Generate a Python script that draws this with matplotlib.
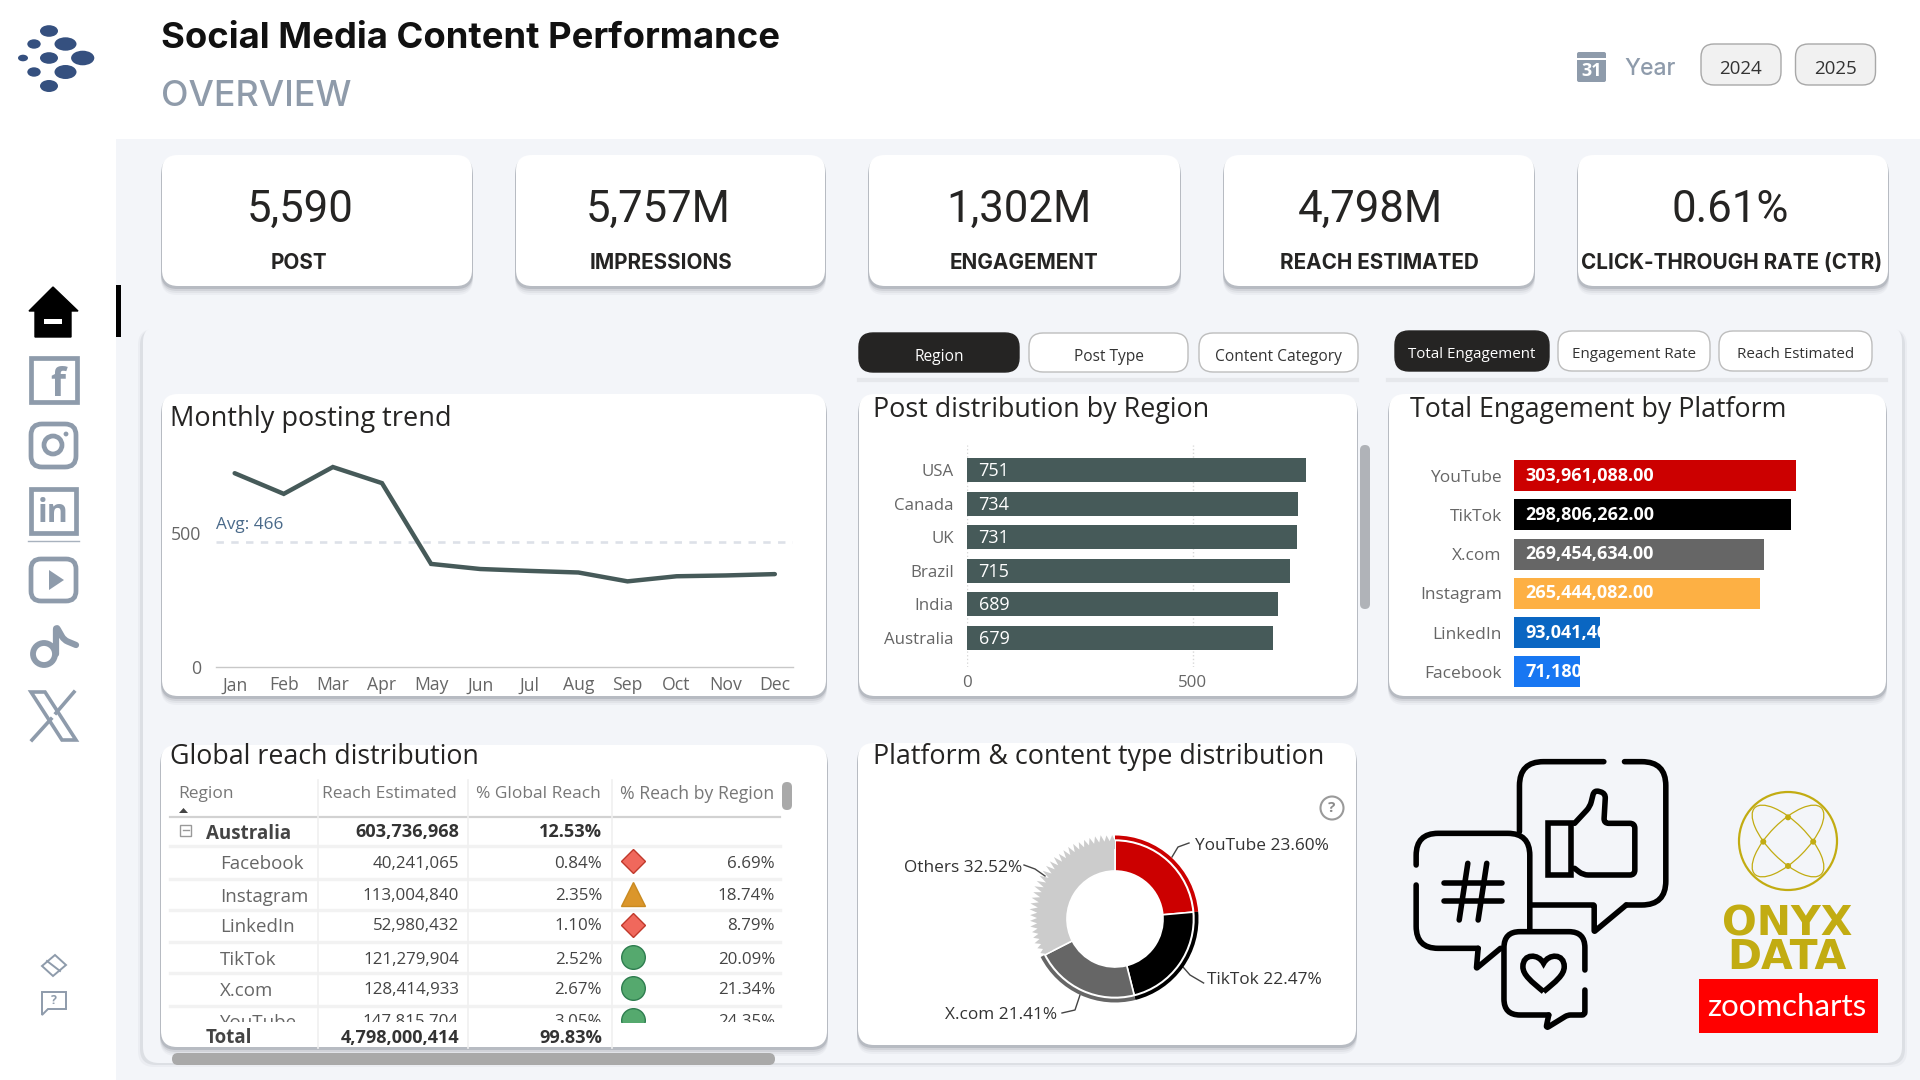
import numpy as np
import matplotlib
matplotlib.use("Agg")
import matplotlib.pyplot as plt
from matplotlib.patches import FancyBboxPatch, Rectangle, Circle, Polygon, PathPatch, Ellipse
from matplotlib.path import Path

# ---------- data ----------
kpi_values = ["5,590", "5,757M", "1,302M", "4,798M", "0.61%"]
kpi_labels = ["POST", "IMPRESSIONS", "ENGAGEMENT", "REACH ESTIMATED", "CLICK-THROUGH RATE (CTR)"]
months = ["Jan", "Feb", "Mar", "Apr", "May", "Jun", "Jul", "Aug", "Sep", "Oct", "Nov", "Dec"]
monthly_posts = [721, 644, 744, 684, 383, 364, 357, 351, 318, 337, 340, 345]
avg_posts = 466
regions = ["USA", "Canada", "UK", "Brazil", "India", "Australia"]
region_posts = [751, 734, 731, 715, 689, 679]
platforms = ["YouTube", "TikTok", "X.com", "Instagram", "LinkedIn", "Facebook"]
platform_engagement = [303961088, 298806262, 269454634, 265444082, 93041400, 71180000]
platform_colors = ["#CC0000", "#000000", "#666666", "#FDB044", "#0A66C2", "#1877F2"]
tab_left = ["Region", "Post Type", "Content Category"]
tab_right = ["Total Engagement", "Engagement Rate", "Reach Estimated"]
years = ["2024", "2025"]
table_header = ["Region", "Reach Estimated", "% Global Reach", "% Reach by Region"]
table_names = ["Facebook", "Instagram", "LinkedIn", "TikTok", "X.com", "YouTube"]
table_reach = ["40,241,065", "113,004,840", "52,980,432", "121,279,904", "128,414,933", "147,815,704"]
table_global = ["0.84%", "2.35%", "1.10%", "2.52%", "2.67%", "3.05%"]
table_region = ["6.69%", "18.74%", "8.79%", "20.09%", "21.34%", "24.35%"]
table_icons = ["D", "^", "D", "o", "o", "o"]
group_row = ["Australia", "603,736,968", "12.53%"]
total_row = ["Total", "4,798,000,414", "99.83%"]
donut_labels = ["YouTube 23.60%", "TikTok 22.47%", "X.com 21.41%", "Others 32.52%"]
donut_values = [23.60, 22.47, 21.41, 32.52]
donut_colors = ["#CC0000", "#000000", "#666666", "#CCCCCC"]
others_tips = [82, 83, 84, 84, 84, 85, 85, 85, 86, 86, 86, 86, 87, 87, 87, 87, 87, 87, 87, 86,
               86, 86, 86, 85, 85, 85, 85, 85, 84, 84]

SANS = "Open Sans"
HEAD = "Inter"
BG = "#F3F5F9"
SLATE = "#8E9BAB"
BAR = "#465A59"

plt.rcParams["font.family"] = [SANS, "DejaVu Sans"]
fig = plt.figure(figsize=(19.2, 10.8), dpi=100, facecolor="white")
W, H = 1920, 1080
ax = fig.add_axes([0, 0, 1, 1])
ax.set_xlim(0, W); ax.set_ylim(H, 0); ax.axis("off")


def sub_axes(x0, y0, x1, y1, **kw):
    a = fig.add_axes([x0 / W, 1 - y1 / H, (x1 - x0) / W, (y1 - y0) / H], **kw)
    a.patch.set_alpha(0)
    return a


def rbox(x0, y0, x1, y1, r, fc, ec="none", lw=0, z=1, alpha=None):
    p = FancyBboxPatch((x0, y0), x1 - x0, y1 - y0, boxstyle=f"round,pad=0,rounding_size={r}",
                       fc=fc, ec=ec, lw=lw, zorder=z, alpha=alpha)
    ax.add_patch(p)
    return p


def card(x0, y0, x1, y1, r=16, z=2):
    for d, a in [(9, 0.05), (7, 0.07), (5, 0.12), (3, 0.22)]:
        rbox(x0 - 1, y0 + d - 1, x1 + 1, y1 + d, r, "#5E6672", alpha=a, z=z)
    rbox(x0, y0, x1, y1, r, "white", z=z + 0.1)


def T(x, y, s, size=12, color="#333333", ha="left", weight="normal", family=None, z=6, **kw):
    return ax.text(x, y, s, fontsize=size, color=color, ha=ha, va="center", fontweight=weight,
                   family=family or SANS, zorder=z, **kw)


def rpath(pts, r=6, closed=False):
    pts = [np.array(p, float) for p in pts]
    verts, codes = [pts[0]], [Path.MOVETO]
    n = len(pts)
    for i in range(1, n - 1):
        p, a, b = pts[i], pts[i - 1], pts[i + 1]
        u = (a - p) / np.linalg.norm(a - p); v = (b - p) / np.linalg.norm(b - p)
        verts += [p + u * r, p, p + v * r]; codes += [Path.LINETO, Path.CURVE3, Path.CURVE3]
    verts.append(pts[-1]); codes.append(Path.LINETO)
    return Path(verts, codes)


def stroke(pts, r=6, lw=4.0, color="black", z=6):
    ax.add_patch(PathPatch(rpath(pts, r), fc="none", ec=color, lw=lw, capstyle="round",
                           joinstyle="round", zorder=z))


# ---------- background ----------
ax.add_patch(Rectangle((116, 139), W - 116, H - 139, fc=BG, ec="none", zorder=0))
for d, a in [(4, 0.05), (2, 0.10)]:
    rbox(142 - d, 329, 1903 + d, 1063 + d, 16, "#5E6672", alpha=a, z=0.5)
rbox(143, 326, 1902, 1063, 16, BG, z=0.6)
ax.add_patch(Rectangle((116, 285), 5, 52, fc="black", ec="none", zorder=1))

# ---------- header ----------
for cx, cy, rx, ry in [(49, 31, 9, 5.8), (34, 44, 6.7, 4.7), (65.5, 44, 11, 6.7), (23, 58, 5, 3.3), (49, 58, 9, 5.8),
                       (82.7, 58, 11.6, 7.3), (34, 72, 6.7, 4.7), (65.5, 72, 11, 7), (49, 86, 9, 6)]:
    ax.add_patch(Ellipse((cx, cy), 2 * rx, 2 * ry, fc="#35507F", ec="none", zorder=3))
T(161, 39, "Social Media Content Performance", 26.2, "#111111", weight="bold", family=HEAD)
T(161, 96, "OVERVIEW", 25.8, "#8F9BAA", weight="medium", family=HEAD)
ax.add_patch(FancyBboxPatch((1577, 52), 29, 30, boxstyle="round,pad=0,rounding_size=2", fc=SLATE, ec="none", zorder=3))
ax.add_patch(Rectangle((1577, 58), 29, 2, fc="white", ec="none", zorder=4))
T(1591.5, 71, "31", 13, "white", ha="center", weight="bold")
T(1624, 69, "Year", 16.5, SLATE, family=HEAD, weight="medium")
for (x0, x1), y in zip([(1701, 1781), (1795.5, 1875.5)], years):
    rbox(x0, 44, x1, 85, 13, "#F1F1F1", "#A8A8A8", 1.0, z=3)
    T((x0 + x1) / 2, 69, y, 13.5, "#333333", ha="center")

# ---------- KPI cards ----------
cards_x = [(162, 472), (516, 825), (869, 1180), (1224, 1534), (1578, 1888)]
val_cx = [300, 658, 1019, 1370, 1730]
lab_cx = [299, 661, 1024, 1379, 1732]
for (x0, x1), v, l, vc, lc in zip(cards_x, kpi_values, kpi_labels, val_cx, lab_cx):
    card(x0, 155, x1, 286)
    T(vc, 210, v, 31.5, "#252423", ha="center", family="Roboto")
    T(lc, 263, l, 14.9, "#252423", ha="center", weight="bold", family=HEAD)

# ---------- tabs ----------
for (x0, x1), s, sel in zip([(859, 1019), (1029, 1188), (1199, 1358)], tab_left, [1, 0, 0]):
    rbox(x0, 333, x1, 372, 14, "#252423" if sel else "white", "#BDBDBD" if not sel else "#252423", 1, z=3)
    T((x0 + x1) / 2, 357, s, 11.2, "white" if sel else "#333333", ha="center")
for (x0, x1), s, sel in zip([(1395, 1549), (1558, 1710), (1719, 1872)], tab_right, [1, 0, 0]):
    rbox(x0, 331, x1, 371, 14, "#252423" if sel else "white", "#BDBDBD" if not sel else "#252423", 1, z=3)
    T((x0 + x1) / 2, 355, s, 10.9, "white" if sel else "#333333", ha="center")
ax.plot([859, 1357], [380, 380], color="#E6E8EC", lw=3, zorder=1)
ax.plot([1388, 1886], [380, 380], color="#E6E8EC", lw=3, zorder=1)

# ---------- panels ----------
card(162, 394, 826, 696)
card(859, 394, 1357, 696)
card(1389, 394, 1886, 696)
card(161, 745, 827, 1047)
card(858, 743, 1356, 1045)
T(170, 419, "Monthly posting trend", 19.5, "#252423")
T(873, 410, "Post distribution by Region", 19.4, "#252423")
T(1410, 410, "Total Engagement by Platform", 19.3, "#252423")
T(170, 757, "Global reach distribution", 19.3, "#252423")
T(873, 757, "Platform & content type distribution", 19.4, "#252423")

# ---------- line chart ----------
a1 = sub_axes(215.5, 452, 793, 666.7)
a1.set_ylim(0, 800)
a1.set_xlim(-0.39, 11.37)
a1.axhline(avg_posts, color="#DDE1E8", lw=1.9, dashes=(2.8, 2.8), zorder=1)
a1.plot(range(12), monthly_posts, color=BAR, lw=3.2, solid_capstyle="round", solid_joinstyle="miter", zorder=2)
a1.set_xticks(range(12), months)
a1.set_yticks([0, 500])
a1.tick_params(length=0, labelsize=12.7, labelcolor="#666666")
a1.tick_params(axis="x", pad=7)
a1.tick_params(axis="y", pad=10)
for s in ["top", "left", "right"]:
    a1.spines[s].set_visible(False)
a1.spines["bottom"].set_color("#C8C8C8")
a1.spines["bottom"].set_linewidth(1)
a1.text(215.5, 525, f"Avg: {avg_posts}", transform=ax.transData, fontsize=12.3, color="#4A6A8A", va="center", family=SANS)

# ---------- region bars ----------
a2 = sub_axes(966.7, 445, 966.7 + 361.4, 667)
y2 = np.arange(len(regions))
a2.set_ylim(5 + 29 / 33.5, -25 / 33.5)
a2.set_xlim(0, 800)
a2.barh(y2, region_posts, height=24 / 33.5, color=BAR, zorder=2)
a2.set_yticks(y2, regions)
a2.set_xticks([0, 500])
a2.tick_params(length=0, labelsize=12.2, labelcolor="#666666")
a2.tick_params(axis="y", pad=9.3)
a2.tick_params(axis="x", pad=6)
a2.grid(axis="x", color="#D8D8D8", lw=1, ls=":", zorder=0)
for s in a2.spines.values():
    s.set_visible(False)
for i, v in enumerate(region_posts):
    a2.annotate(str(v), (0, i), xytext=(8.5, -0.8), textcoords="offset points", color="white", fontsize=13,
                va="center", ha="left", zorder=3)
rbox(1360, 445, 1370, 609, 5, "#B0B3B8", z=4)

# ---------- platform bars ----------
a3 = sub_axes(1514, 456, 1514 + 371.2, 691.6)
y3 = np.arange(len(platforms))
a3.set_ylim(5.5, -0.5)
a3.set_xlim(0, 400e6)
bars = a3.barh(y3, platform_engagement, height=31 / 39.3, color=platform_colors, zorder=2)
a3.set_yticks(y3, platforms)
a3.set_xticks([])
a3.tick_params(length=0, labelsize=12.5, labelcolor="#666666", pad=8.8)
for s in a3.spines.values():
    s.set_visible(False)
for b, v in zip(bars, platform_engagement):
    t = a3.annotate(f"{v:,.2f}", (0, b.get_y() + b.get_height() / 2), xytext=(8.2, 0), textcoords="offset points",
                    color="white", fontsize=13, fontweight="bold", va="center", ha="left", zorder=3)
    t.set_clip_path(b)

# ---------- table ----------
TX = [459, 602, 775]
for y in [846, 879, 910, 942, 973, 1006]:
    ax.plot([170, 780], [y, y], color="#F2F2F2", lw=2.4, zorder=3)
ax.plot([170, 780], [817, 817], color="#D2D2D2", lw=1.6, zorder=3)
for x in [318, 468, 611.5]:
    ax.plot([x, x], [780, 1048], color="#F0F0F0", lw=1.2, zorder=3)
T(178.5, 794, table_header[0], 12.5, "#777777")
T(457, 794, table_header[1], 12.5, "#777777", ha="right")
T(601, 794, table_header[2], 12.5, "#777777", ha="right")
T(774, 794, table_header[3], 12.7, "#777777", ha="right")
ax.add_patch(Polygon([(179, 813), (188, 813), (183.5, 808)], fc="#444444", ec="none", zorder=5))
ax.add_patch(Rectangle((180, 824.5), 11, 11, fc="none", ec="#999999", lw=1, zorder=5))
ax.plot([182.5, 188.5], [830, 830], color="#999999", lw=1, zorder=5)
T(205.5, 834, group_row[0], 13.5, "#444444", weight="bold")
T(TX[0], 832, group_row[1], 13.1, "#333333", ha="right", weight="bold")
T(TX[1], 832, group_row[2], 13.1, "#333333", ha="right", weight="bold")
clip = Rectangle((140, 840), 700, 182, transform=ax.transData)
row_y = [864, 896.5, 927, 960, 991, 1022.5]
icon_y = [861, 894, 925, 957, 988, 1020]
for i, n in enumerate(table_names):
    items = [T(220, row_y[i], n, 13.5, "#666666"),
             T(TX[0], row_y[i] - 0.5, table_reach[i], 12.2, "#444444", ha="right"),
             T(TX[1], row_y[i] - 0.5, table_global[i], 12.2, "#444444", ha="right"),
             T(TX[2], row_y[i] - 0.5, table_region[i], 12.2, "#444444", ha="right")]
    m = table_icons[i]
    st = {"D": dict(mfc="#F0685C", mec="#C0392B", ms=12), "^": dict(mfc="#DB962B", mec="#C98A20", ms=17),
          "o": dict(mfc="#55A96E", mec="#2E7D4F", ms=17)}[m]
    items += ax.plot([632.5], [icon_y[i]], marker=m, ls="none", mew=1, zorder=5, **st)
    for it in items:
        it.set_clip_on(True)
        it.set_clip_path(clip)
T(205.5, 1038, total_row[0], 13.5, "#444444", weight="bold")
T(TX[0], 1038, total_row[1], 13.1, "#333333", ha="right", weight="bold")
T(TX[1], 1038, total_row[2], 13.1, "#333333", ha="right", weight="bold")
rbox(782, 782, 792, 810, 5, "#A9A9A9", z=6)
rbox(172, 1053, 775, 1065, 6, "#A9A9A9", z=6)

# ---------- donut ----------
R = 90
a4 = sub_axes(1115 - R, 919 - R, 1115 + R, 919 + R)
a4.pie(donut_values, colors=donut_colors, radius=78.5, startangle=90, counterclock=False,
       wedgeprops=dict(width=30.5, edgecolor="white", linewidth=1.2))
a4.pie(donut_values, colors=donut_colors[:3] + ["none"], radius=83.5, startangle=90, counterclock=False,
       wedgeprops=dict(width=3.8, edgecolor="none"))
for t in list(a4.texts):
    t.remove()
start = 360 * (1 - donut_values[3] / 100) + 0.6
edges = np.radians(np.linspace(start, 360, 2 * len(others_tips) + 1))
outer = [(78 * np.sin(edges[0]), 78 * np.cos(edges[0]))]
for k, tip in enumerate(others_tips):
    th, th2 = edges[2 * k + 1], edges[2 * k + 2]
    outer.append((tip * np.sin(th), tip * np.cos(th)))
    outer.append((78 * np.sin(th2), 78 * np.cos(th2)))
back = [(70 * np.sin(e), 70 * np.cos(e)) for e in edges[::-1]]
a4.add_patch(Polygon(outer + back, fc=donut_colors[3], ec="none", zorder=3))
a4.set_xlim(-R, R); a4.set_ylim(-R, R)
lab_pos = [(1195, 846), (1207, 980), (945, 1015), (904, 868)]
for (x, y), s in zip(lab_pos, donut_labels):
    T(x, y, s, 12.4, "#333333")
for xs, ys in [([1172, 1178, 1189], [857, 847, 843]), ([1183, 1190, 1203.6], [967, 975, 983]),
               ([1062, 1075, 1080], [1013, 1010, 995]), ([1024, 1035, 1045], [865, 869, 876])]:
    ax.plot(xs, ys, color="#444444", lw=1, zorder=6)
ax.add_patch(Circle((1332, 808), 11.5, fc="none", ec="#9A9A9A", lw=1.5, zorder=6))
T(1332, 808, "?", 11, "#8A8A8A", ha="center", weight="bold")

# ---------- social bubbles ----------
def Z(zx, zy):
    return (1380 + zx / 2.904, 740 + zy / 3)

def ZP(lst):
    return [Z(*p) for p in lst]

stroke(ZP([(650, 65), (405, 65), (405, 275)]), 24)
stroke(ZP([(710, 65), (830, 65), (830, 495), (715, 495)]), 24)
stroke(ZP([(715, 495), (622, 575), (622, 495), (440, 495)]), 1)
stroke(ZP([(105, 375), (105, 280), (435, 280), (435, 570)]), 22)
stroke(ZP([(105, 435), (105, 625), (285, 625)]), 22)
stroke(ZP([(285, 625), (280, 685), (350, 625)]), 1)
stroke(ZP([(595, 690), (595, 575), (360, 575), (360, 825), (490, 825)]), 16)
stroke(ZP([(490, 825), (482, 865), (545, 825), (595, 825), (595, 750)]), 3)
for a_, b_ in [((255, 370), (230, 540)), ((310, 370), (285, 540)), ((185, 430), (355, 430)), ((185, 483), (355, 483))]:
    stroke(ZP([a_, b_]))
ax.add_patch(Rectangle(Z(487, 250), 68 / 2.904, 155 / 3, fc="none", ec="black", lw=4, zorder=6))
stroke(ZP([(565, 250), (610, 200), (622, 150), (655, 160), (650, 250), (740, 250), (740, 405), (590, 405), (565, 385)]), 5)
hv = ZP([(475, 755), (440, 725), (415, 705), (415, 680), (415, 640), (460, 640), (475, 670),
         (490, 640), (535, 640), (535, 680), (535, 705), (510, 725), (475, 755)])
ax.add_patch(PathPatch(Path(hv, [Path.MOVETO] + [Path.CURVE4] * 12), fc="none", ec="black", lw=4, zorder=6))

# ---------- onyx / zoomcharts ----------
GOLD = "#C2AC12"
ax.add_patch(Circle((1788, 841), 49, fc="none", ec=GOLD, lw=1.6, zorder=6))
ax.add_patch(Ellipse((1788, 841), 94, 38, angle=45, fc="none", ec=GOLD, lw=0.9, zorder=6))
ax.add_patch(Ellipse((1788, 841), 94, 38, angle=-45, fc="none", ec=GOLD, lw=0.9, zorder=6))
for zp in [(1185, 232), (1113, 305), (1258, 305), (1185, 378)]:
    ax.add_patch(Circle(Z(*zp), 3, fc=GOLD, ec="none", zorder=7))
T(1787, 941, "ONYX\nDATA", 29.5, GOLD, ha="center", weight="bold", family="DejaVu Sans",
  multialignment="center", linespacing=0.8)
ax.add_patch(Rectangle((1698.5, 979), 179, 54, fc="#FF0000", ec="none", zorder=6))
T(1787, 1007, "zoomcharts", 22.5, "white", ha="center", family="Lato", z=7)

# ---------- sidebar ----------
ax.add_patch(Polygon([(29, 311), (53, 287), (78, 311), (71, 311), (71, 337), (35, 337), (35, 311)], fc="black", ec="black", lw=1, zorder=3))
ax.add_patch(Rectangle((44, 319), 18, 5, fc="white", ec="none", zorder=4))
LW = 3.4
# facebook
ax.add_patch(Rectangle((31, 358), 46, 44, fc="none", ec=SLATE, lw=LW, zorder=3))
T(58, 386, "f", 28, SLATE, ha="center", weight="bold")
# instagram
rbox(31, 424, 76, 467, 11, "none", SLATE, LW, z=3)
ax.add_patch(Circle((53, 445), 9, fc="none", ec=SLATE, lw=LW, zorder=3))
ax.add_patch(Circle((66, 434), 2.4, fc=SLATE, ec="none", zorder=3))
# linkedin
ax.add_patch(Rectangle((31, 489), 45, 44, fc="none", ec=SLATE, lw=LW, zorder=3))
T(53, 513, "in", 23, SLATE, ha="center", weight="bold")
ax.plot([28, 79], [541, 541], color="#A8B2BE", lw=1, zorder=3)
# youtube
rbox(31, 559, 76, 601, 10, "none", SLATE, LW, z=3)
ax.add_patch(Polygon([(49, 570), (49, 590), (64, 580)], fc=SLATE, ec="none", zorder=3))
# tiktok
ax.add_patch(Circle((44, 654), 11, fc="none", ec=SLATE, lw=4.2, zorder=3))
stroke([(56, 654), (56, 626), (64, 640), (76, 645)], 4, 4.5, SLATE, 3)
# X
ax.add_patch(Polygon([(31, 692), (45, 692), (76, 740), (62, 740)], fc="none", ec=SLATE, lw=2.6, zorder=3))
ax.plot([74, 56], [692, 713], color=SLATE, lw=2.6, zorder=3)
ax.plot([51, 32], [719, 740], color=SLATE, lw=2.6, zorder=3)
# eraser + help
ax.add_patch(Polygon([(42, 966), (55, 955), (66, 965), (53, 976)], fc="none", ec=SLATE, lw=1.4, zorder=3))
ax.plot([47, 60], [961, 971], color=SLATE, lw=1.4, zorder=3)
ax.add_patch(Polygon([(42, 992), (66, 992), (66, 1009), (48, 1009), (42, 1015)], fc="none", ec=SLATE, lw=1.4, zorder=3))
T(54, 1000, "?", 9, SLATE, ha="center", weight="bold")

fig.savefig("out.png", dpi=100)
